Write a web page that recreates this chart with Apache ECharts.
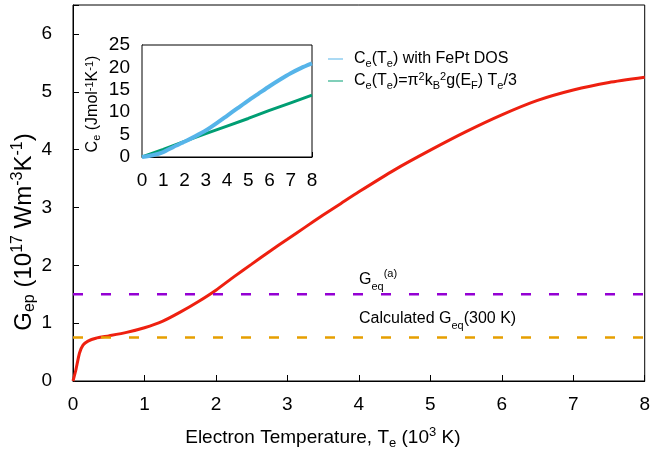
<!DOCTYPE html>
<html>
<head>
<meta charset="utf-8">
<script src="https://cdn.jsdelivr.net/npm/echarts@6/dist/echarts.min.js"></script>
<style>html,body{margin:0;padding:0;background:#fff}#c{width:653px;height:456px}</style>
</head>
<body>
<div id="c"></div>
<script>
// Main curve: electron-phonon coupling G_ep vs electron temperature
var te = [0, 0.04, 0.09, 0.14, 0.21, 0.32, 0.5, 0.75, 1.0, 1.25, 1.5, 1.75, 2.0, 2.25, 2.5, 2.75, 3.0, 3.25, 3.5, 3.75, 4.0, 4.5, 5.0, 5.5, 6.0, 6.5, 7.0, 7.5, 8.0];
var gep = [0, 0.19, 0.48, 0.62, 0.69, 0.74, 0.78, 0.84, 0.92, 1.03, 1.19, 1.37, 1.57, 1.8, 2.02, 2.24, 2.45, 2.66, 2.87, 3.07, 3.27, 3.65, 3.99, 4.31, 4.6, 4.85, 5.03, 5.16, 5.25];
// Reference levels
var geqA = 1.5;
var geqCalc = 0.75;
var levelX = [0, 8];
// Inset: electron heat capacity
var insetT = [0, 0.5, 1, 1.5, 2, 2.5, 3, 3.5, 4, 4.5, 5, 5.5, 6, 6.5, 7, 7.5, 8];
var ceFePt = [0, 0.4, 1.1, 2.3, 3.4, 4.6, 5.9, 7.5, 9.2, 10.9, 12.6, 14.2, 15.8, 17.3, 18.7, 19.9, 20.9];
var insetTLin = [0, 1, 2, 3, 4, 5, 6, 7, 8];
var ceLinear = [0, 1.7, 3.5, 5.2, 6.9, 8.6, 10.4, 12.1, 13.8];

function pairs(xs, ys) { return xs.map(function (x, i) { return [x, ys[i]]; }); }
function level(v) { return levelX.map(function (x) { return [x, v]; }); }

var FONT = 'Liberation Sans';
function richSet(base, small, lh) {
  return {
    n: { fontFamily: FONT, fontSize: base, color: '#000', lineHeight: lh },
    sub: { fontFamily: FONT, fontSize: small, color: '#000', verticalAlign: 'bottom', lineHeight: small },
    sup: { fontFamily: FONT, fontSize: small, color: '#000', verticalAlign: 'top', lineHeight: small }
  };
}

var nameBlue = 'Ce(Te) with FePt DOS';
var nameGreen = 'Ce(Te)=pi2kB2g(EF) Te/3';
var legendRich = {};
legendRich[nameBlue] = '{n|C}{sub|e}{n|(T}{sub|e}{n|) with FePt DOS}';
legendRich[nameGreen] = '{n|C}{sub|e}{n|(T}{sub|e}{n|)=\u03c0}{sup|2}{n|k}{sub|B}{sup|2}{n|g(E}{sub|F}{n|) T}{sub|e}{n|/3}';

var chart = echarts.init(document.getElementById('c'), null, { renderer: 'canvas' });
var option = {
  animation: false,
  backgroundColor: '#fff',
  grid: [
    { left: 73, top: 5, width: 572, height: 376, show: true, borderColor: '#000', borderWidth: 1, backgroundColor: 'transparent' },
    { left: 142, top: 45, width: 170, height: 112, show: true, borderColor: '#000', borderWidth: 1, backgroundColor: '#fff', z: 5 }
  ],
  xAxis: [
    {
      gridIndex: 0, type: 'value', min: 0, max: 8, interval: 1,
      name: '{n|Electron Temperature, T}{sub|e}{n| (10}{sup|3}{n| K)}',
      nameLocation: 'middle', nameGap: 45,
      nameTextStyle: { rich: richSet(19, 13, 24), padding: [0, 72, 0, 0] },
      axisLine: { lineStyle: { color: '#000', width: 1 } },
      axisTick: { inside: true, length: 6, lineStyle: { color: '#000' } },
      axisLabel: { margin: 14, fontFamily: FONT, fontSize: 19, color: '#000' },
      splitLine: { show: false }
    },
    {
      gridIndex: 1, type: 'value', min: 0, max: 8, interval: 1,
      axisLine: { lineStyle: { color: '#000', width: 1 } },
      axisTick: { inside: true, length: 5, lineStyle: { color: '#000' } },
      axisLabel: { margin: 14, fontFamily: FONT, fontSize: 19, color: '#000' },
      splitLine: { show: false }
    }
  ],
  yAxis: [
    {
      gridIndex: 0, type: 'value', min: 0, max: 6.5, interval: 1,
      name: '{n|G}{sub|ep}{n| (10}{sup|17}{n| Wm}{sup|-3}{n|K}{sup|-1}{n|)}',
      nameLocation: 'middle', nameGap: 35, nameMoveOverlap: false,
      nameTextStyle: { rich: richSet(24, 16, 28), padding: [0, 78, 0, 0] },
      axisLine: { lineStyle: { color: '#000', width: 1 } },
      axisTick: { inside: true, length: 6, lineStyle: { color: '#000' } },
      axisLabel: {
        margin: 21, fontFamily: FONT, fontSize: 19, color: '#000',
        formatter: function (v) { return Number.isInteger(v) ? String(v) : ''; }
      },
      splitLine: { show: false }
    },
    {
      gridIndex: 1, type: 'value', min: 0, max: 25, interval: 5,
      name: '{n|C}{sub|e}{n| (Jmol}{sup|-1}{n|K}{sup|-1}{n|)}',
      nameLocation: 'middle', nameGap: 40, nameMoveOverlap: false,
      nameTextStyle: { rich: richSet(16, 11, 18), padding: [0, 6, 0, 0] },
      axisLine: { lineStyle: { color: '#000', width: 1 } },
      axisTick: { inside: true, length: 5, lineStyle: { color: '#000' } },
      axisLabel: { margin: 12, fontFamily: FONT, fontSize: 19, color: '#000' },
      splitLine: { show: false }
    }
  ],
  legend: {
    data: [nameBlue, nameGreen],
    orient: 'vertical', left: 323, top: 46, itemWidth: 15, itemHeight: 10, itemGap: 2,
    icon: 'path://M0,4.5 L15,4.5 L15,5.5 L0,5.5 Z',
    formatter: function (name) { return legendRich[name]; },
    textStyle: { rich: richSet(16, 11, 20), padding: [0, 0, 0, 6] }
  },
  series: [
    {
      name: 'Gep', type: 'line', xAxisIndex: 0, yAxisIndex: 0,
      data: pairs(te, gep), symbol: 'none', smooth: 0.2,
      lineStyle: { color: '#ee2010', width: 3 }, z: 2
    },
    {
      name: 'Geq(a)', type: 'line', xAxisIndex: 0, yAxisIndex: 0,
      data: level(geqA), symbol: 'none',
      lineStyle: { color: '#9400d3', width: 2.5, type: [10, 18] }, z: 3
    },
    {
      name: 'Geq calc', type: 'line', xAxisIndex: 0, yAxisIndex: 0,
      data: level(geqCalc), symbol: 'none',
      lineStyle: { color: '#e69f00', width: 2.5, type: [10, 18] }, z: 3
    },
    {
      name: nameGreen, type: 'line', xAxisIndex: 1, yAxisIndex: 1,
      data: pairs(insetTLin, ceLinear), symbol: 'none',
      itemStyle: { color: '#009e73' },
      lineStyle: { color: '#009e73', width: 3 }, z: 6
    },
    {
      name: nameBlue, type: 'line', xAxisIndex: 1, yAxisIndex: 1,
      data: pairs(insetT, ceFePt), symbol: 'none', smooth: 0.2,
      itemStyle: { color: '#56b4e9' },
      lineStyle: { color: '#56b4e9', width: 4 }, z: 7
    }
  ],
  graphic: [
    {
      type: 'text', left: 359, top: 268, z: 10,
      style: { text: '{n|G}{sub|eq}{sup|(a)}', rich: richSet(16, 11, 24) }
    },
    {
      type: 'text', left: 359, top: 311, z: 10,
      style: { text: '{n|Calculated G}{sub|eq}{n|(300 K)}', rich: richSet(16, 11, 24) }
    }
  ]
};
chart.setOption(option);
</script>
</body>
</html>
